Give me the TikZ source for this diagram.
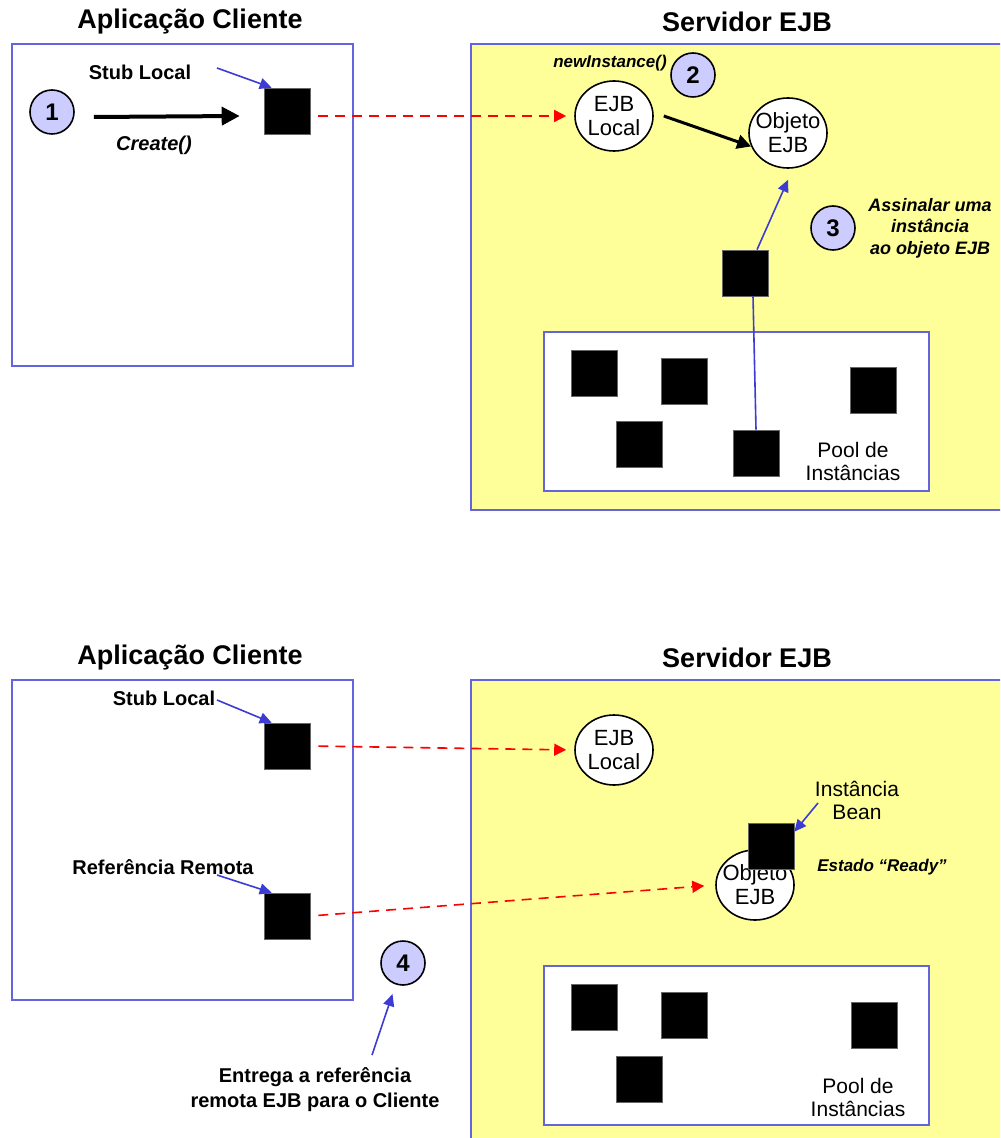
\documentclass[tikz,border=0pt]{standalone}
\usepackage{fontspec}
\setmainfont{Liberation Sans}
\usetikzlibrary{arrows.meta,shapes.geometric,positioning}
\definecolor{frameblue}{RGB}{100,100,225}
\definecolor{srvyellow}{RGB}{255,255,153}
\definecolor{badgefill}{RGB}{204,204,255}
\definecolor{ptrblue}{RGB}{60,60,210}
\definecolor{refred}{RGB}{255,0,0}
\tikzset{
  panel/.style={draw=frameblue,line width=0.9pt},
  server/.style={panel,fill=srvyellow},
  inst/.style={rectangle,fill=black,draw=black!60,line width=0.3pt,
               minimum size=23pt,inner sep=0pt},
  bubble/.style={ellipse,draw=black,fill=white,line width=0.8pt,
                 minimum width=39pt,minimum height=35pt,inner sep=0pt},
  bubtxt/.style={align=center,font=\fontsize{11}{12}\selectfont},
  badge/.style={circle,draw=black,fill=badgefill,line width=0.8pt,
                minimum size=22pt,inner sep=0pt,
                font=\fontsize{12}{14}\selectfont\bfseries},
  title/.style={font=\fontsize{13.5}{16}\selectfont\bfseries},
  lbl/.style={align=center,font=\fontsize{10}{12.5}\selectfont\bfseries},
  plain/.style={align=center,font=\fontsize{10.5}{11.5}\selectfont},
  note/.style={align=center,font=\fontsize{8.5}{10.5}\selectfont\bfseries\itshape},
  callarrow/.style={-{Triangle[length=9pt,width=9pt]},line width=2pt},
  ptr/.style={-{Triangle[length=6pt,width=5.5pt]},ptrblue,line width=0.8pt},
  link/.style={ptrblue,line width=0.8pt},
  remote/.style={-{Triangle[length=6pt,width=6pt]},refred,line width=0.8pt,
                 dash pattern=on 5pt off 3.5pt},
}
\begin{document}
\begin{tikzpicture}[x=0.5pt,y=-0.5pt]
  \clip (0,0) rectangle (1000,1138);
  \fill[white] (0,0) rectangle (1000,1138);

  % --- create(): stub local, EJB local, objeto EJB
  \node[title] (cliA) at (190,22) {Aplicação Cliente};
  \node[title] (srvA) at (747,22) {Servidor EJB};
  \draw[panel] (12,44) rectangle (353,366);
  \draw[server] (471,44) rectangle (1010,510);
  \draw[panel,fill=white] (544,332) rectangle (929,491);

  \foreach \n/\x/\y in {a/594/373,b/684/381,c/873/390,d/639/444,e/756/453}
    \node[inst] (poolA\n) at (\x,\y) {};
  \node[plain] (poolA) at (853,461) {Pool de\\Instâncias};

  \node[badge] (stepA) at (52,112) {1};
  \node[inst] (stubA) at (287,111) {};
  \node[lbl] (stubtxtA) at (140,72) {Stub Local};
  \node[lbl,font=\fontsize{10}{12}\selectfont\bfseries\itshape] (createtxt) at (154,145) {Create()};
  \draw[callarrow] ([xshift=9.5pt,yshift=-2.5pt]stepA.east)
    -- ([xshift=-12pt,yshift=-2.5pt]stubA.west);
  \coordinate (stubtailA) at (217,68);
  \draw[ptr] (stubtailA) -- ([xshift=4pt]stubA.north west);

  \node[bubble,label={[bubtxt]center:{EJB\\Local}}] (ejbA) at (614,116) {};
  \node[bubble,label={[bubtxt]center:{Objeto\\EJB}}] (objA) at (788,133) {};
  \node[note] (newinst) at (610,63) {newInstance()};
  \node[badge] (stepB) at (693,75) {2};
  \draw[remote,shorten <=4pt,shorten >=4pt] (stubA.east |- ejbA.west) -- (ejbA.west);
  \draw[-{Triangle[length=7pt,width=7pt]},line width=1.5pt]
    ([xshift=5pt]ejbA.east) -- (objA.200);

  \node[badge] (stepC) at (833,228) {3};
  \node[note,font=\fontsize{9}{10.8}\selectfont\bfseries\itshape] (assign) at (930,228) {Assinalar uma\\instância\\ao objeto EJB};
  \node[inst] (movA) at (745,273) {};
  \draw[ptr] ([xshift=6pt]movA.north) -- ([yshift=-5.5pt]objA.south);
  \draw[link] ([xshift=4pt]movA.south) -- (poolAe.north);

  % --- referencia remota entregue ao cliente
  \node[title] (cliB) at (190,658) {Aplicação Cliente};
  \node[title] (srvB) at (747,658) {Servidor EJB};
  \draw[panel] (12,680) rectangle (353,1000);
  \draw[server] (471,680) rectangle (1010,1150);
  \draw[panel,fill=white] (544,966) rectangle (929,1125);

  \foreach \n/\x/\y in {a/594/1007,b/684/1015,c/874/1025,d/639/1079}
    \node[inst] (poolB\n) at (\x,\y) {};
  \node[plain] (poolB) at (858,1097) {Pool de\\Instâncias};

  \node[inst] (stubB) at (287,746) {};
  \node[inst] (refB) at (287,916) {};
  \node[lbl] (stubtxtB) at (164,698) {Stub Local};
  \node[lbl] (reftxtB) at (163,867) {Referência Remota};
  \coordinate (stubtailB) at (217,700);
  \coordinate (reftail) at (217,875);
  \draw[ptr] (stubtailB) -- ([xshift=4pt]stubB.north west);
  \draw[ptr] (reftail) -- ([xshift=4pt]refB.north west);

  \node[bubble,label={[bubtxt]center:{EJB\\Local}}] (ejbB) at (614,750) {};
  \node[bubble,label={[bubtxt]center:{Objeto\\EJB}}] (objB) at (755,885) {};
  \node[inst] (beanB) at (771,846) {};
  \node[plain] (beantxt) at (857,800) {Instância\\Bean};
  \coordinate (beantail) at (818,803);
  \draw[ptr] (beantail) -- ([yshift=-4.5pt]beanB.north east);
  \node[note] (ready) at (882,867) {Estado “Ready”};

  \draw[remote,shorten <=4pt,shorten >=4pt] (stubB.east) -- (ejbB.west);
  \draw[remote,shorten <=4pt,shorten >=5.5pt] (refB.east) -- (objB.west);

  \node[badge] (stepD) at (403,963) {4};
  \node[lbl] (deliver) at (315,1090) {Entrega a referência\\remota EJB para o Cliente};
  \coordinate (delivertail) at (372,1055);
  \draw[ptr,shorten >=5pt] (delivertail) -- (stepD);
\end{tikzpicture}
\end{document}
